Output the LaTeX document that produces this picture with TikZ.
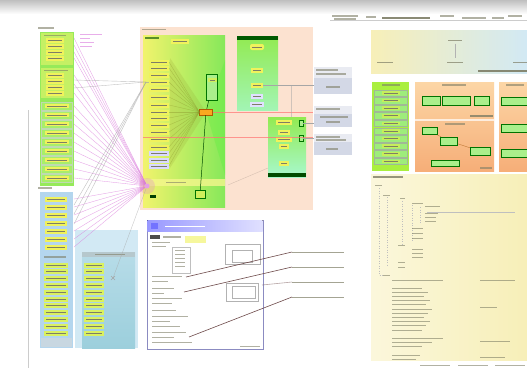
\documentclass[tikz,border=0pt]{standalone}
\usetikzlibrary{calc}
\definecolor{peach}{HTML}{FCE2D0}
\definecolor{lime}{HTML}{86E85A}
\definecolor{limeL}{HTML}{A8EE6A}
\definecolor{yel}{HTML}{F0F25C}
\definecolor{paleyel}{HTML}{F7EFB8}
\definecolor{bluecol}{HTML}{B4D6EE}
\definecolor{tealc}{HTML}{9CCFDC}
\definecolor{lblue}{HTML}{D2E9F4}
\definecolor{grayb}{HTML}{D3D8E6}
\definecolor{orng}{HTML}{F6AE78}
\definecolor{orngL}{HTML}{FCD6A6}
\definecolor{pinkl}{HTML}{DA78DC}
\definecolor{txtc}{HTML}{7E7E66}
\definecolor{olivec}{HTML}{8E9A2E}
\definecolor{callc}{HTML}{6E4A4A}
\tikzset{
  rb/.style={anchor=north west,inner sep=0pt,outer sep=0pt},
  txtbar/.style={line width=1.1pt,draw=txtc,opacity=.6},
  yitem/.style={fill=yel,inner sep=0pt,outer sep=0pt,minimum height=5pt,
     path picture={\draw[txtc,line width=.8pt] ([xshift=2pt]path picture bounding box.west) -- ([xshift=-2pt]path picture bounding box.east);}},
  lab/.style={inner sep=0pt,outer sep=0pt,minimum height=3pt,anchor=west,
     path picture={\draw[txtc,line width=1pt,opacity=.7] (path picture bounding box.west) -- (path picture bounding box.east);}},
  gcell/.style={fill=limeL,draw=lime!70!black!40,line width=.3pt,inner sep=0pt,minimum width=31pt,minimum height=8pt},
  gnode/.style={fill=lime!70!white,draw=green!45!black,line width=.4pt,inner sep=0pt},
  pinkline/.style={draw=pinkl,line width=.35pt,opacity=.7},
  grayline/.style={draw=gray!70,line width=.4pt},
  fanline/.style={draw=olivec,line width=.4pt,opacity=.45},
  redline/.style={draw=red!55,line width=.5pt,opacity=.7},
  callout/.style={draw=callc,line width=.6pt},
  darkline/.style={draw=green!30!black,line width=.5pt},
}
\newcommand\rbox[6]{\node[rb,#1,minimum width=#4pt,minimum height=#5pt] (#6) at (#2,#3) {};}
\newcommand\tbar[3]{\draw[txtbar] (#1,#2) -- ++(#3,0);}
\begin{document}
\begin{tikzpicture}[x=1pt,y=-1pt]
\useasboundingbox (0,0) rectangle (527,370);
\fill[white] (0,0) rectangle (527,370);
\fill[top color=black!25,bottom color=white] (0,0) rectangle (527,14);
\draw[black!20,line width=.8pt] (28,110) -- (28,368);

% ===== left upper column
\tbar{38}{28}{16}
\rbox{fill=lime!85!yel}{40}{32}{34}{154}{Lcol}
\rbox{fill=limeL!60!yel}{41}{33}{32}{32}{Lg1}
\tbar{44}{35.5}{22}
\foreach \y [count=\i] in {40.5,46.5,52.5,58.5} \node[yitem,minimum width=18pt] (Lg1i\i) at (55,\y) {};
\rbox{fill=limeL!60!yel}{41}{68}{32}{30}{Lg2}
\tbar{44}{70.5}{24}
\foreach \y [count=\i] in {75,81,87,93} \node[yitem,minimum width=18pt] (Lg2i\i) at (55,\y) {};
\foreach \i in {0,...,8} {
  \node[gcell] (Lc\i) at (57,106+9*\i) {};
  \node[yitem,minimum width=24pt,minimum height=4pt] (Lci\i) at (Lc\i) {};
}
\foreach \y/\w in {34/22,38/10,42/14,46/12} \draw[draw=pinkl,line width=.9pt,opacity=.6] (80,\y) -- ++(\w,0);

% ===== left lower column
\tbar{38}{188}{14}
\rbox{fill=bluecol}{40}{192}{33}{156}{Bcol}
\foreach \y [count=\i] in {199,207,215,223,231,239,247} \node[yitem,minimum width=22pt] (Bu\i) at (56,\y) {};
\tbar{44}{257}{22}
\foreach \i in {0,...,10} \node[yitem,fill=yel!70!limeL,minimum width=24pt] (Bl\i) at (56,265+6.8*\i) {};
\fill[bluecol!70!gray!60] (41,338) rectangle (72,347);

% ===== light blue box
\rbox{fill=lblue}{75}{230}{63}{118}{LB}
\rbox{top color=tealc!50!lblue,bottom color=tealc}{82}{252}{53}{96}{LBi}
\fill[tealc!70!black!50] (82,252) rectangle (135,257);
\tbar{95}{254.5}{30}
\foreach \i in {0,...,10} \node[yitem,fill=yel!70!limeL,minimum width=20pt] (Ri\i) at (94,265+6.8*\i) {};
\coordinate (Xm) at (113,278);
\draw[gray!70,line width=.5pt] ($(Xm)+(-2,-2)$) -- ($(Xm)+(2,2)$) ($(Xm)+(-2,2)$) -- ($(Xm)+(2,-2)$);

% ===== center peach area
\rbox{fill=peach}{140}{27}{173}{183}{Peach}
\tbar{142}{29.5}{24}
\rbox{left color=yel!90!white,right color=lime}{143}{35}{82}{172}{CG}
\fill[olivec,opacity=.18] (170,58) -- (206,112) -- (170,168) -- cycle;
\fill[lime!70!green,opacity=.35] (206,112) -- (225,60) -- (225,175) -- cycle;
\fill[yel!70,opacity=.8] (143,179) rectangle (225,186);
\tbar{166}{182.5}{20}
\draw[txtbar,draw=green!30!black] (145,38) -- ++(14,0);
\node[yitem,minimum width=18pt,minimum height=5pt] (Ctab) at (180,41) {};
\foreach \y [count=\i] in {62,68,75,82,89,97,105,112,118,125,132,139,147} \node[yitem,minimum width=20pt] (Ci\i) at (159,\y) {};
\foreach \y [count=\i] in {153,160,166} \node[yitem,fill=blue!15,minimum width=20pt] (Cb\i) at (159,\y) {};
\node[fill=orange!65!yel,draw=orange!70!black,line width=.3pt,minimum width=13pt,minimum height=6pt,inner sep=0] (hub) at (206,112) {};
\foreach \i in {1,...,13} \draw[fanline] (Ci\i.east) -- (hub.west);
\foreach \i in {1,...,3} \draw[fanline] (Cb\i.east) -- (hub.west);
\node[gnode,minimum width=11pt,minimum height=26pt] (Gn) at (212,87) {};
\node[yitem,fill=yel!70!lime,minimum width=9pt,minimum height=4pt] (Gni) at (212,80) {};
\draw[darkline] (hub) -- (Gn);
\node[gnode,fill=yel!70!lime,minimum width=10pt,minimum height=8pt] (Cbot) at (200,194) {};
\draw[darkline] (hub) -- (Cbot);
\node[fill=green!25!black,minimum width=6pt,minimum height=3pt,inner sep=0] (Cdk) at (153,196) {};
\fill[pinkl,opacity=.25] (147,186) circle (8);
\node[circle,fill=pinkl!70,inner sep=0,minimum size=5pt] (P) at (147,186) {};
\coordinate (Q) at (146,82);

% box 2
\rbox{top color=lime!90!yellow,bottom color=cyan!25!lime!60!white}{237}{36}{41}{74}{CG2}
\fill[green!35!black] (237,36) rectangle (278,40);
\node[yitem,rounded corners=2pt,minimum width=14pt,minimum height=6pt] (C2a) at (257,47) {};
\node[yitem,minimum width=12pt] (C2b) at (257,70) {};
\node[yitem,minimum width=12pt] (C2c) at (257,85) {};
\node[yitem,fill=blue!12,minimum width=12pt] (C2d) at (257,96) {};
\node[yitem,fill=blue!12,minimum width=14pt] (C2e) at (257,104) {};

% box 3
\rbox{top color=lime!90!yellow,bottom color=lime!60!cyan!50!white}{268}{117}{38}{60}{CG3}
\fill[green!30!black] (268,173) rectangle (306,177);
\node[yitem,minimum width=16pt] (C3a) at (284,122) {};
\node[yitem,minimum width=12pt] (C3b) at (284,132) {};
\node[yitem,minimum width=16pt] (C3c) at (284,139) {};
\node[yitem,minimum width=10pt] (C3d) at (284,146) {};
\node[yitem,minimum width=10pt] (C3e) at (284,163) {};
\node[gnode,minimum width=4pt,minimum height=6pt] (C3r1) at (301,123) {};
\node[gnode,minimum width=4pt,minimum height=6pt] (C3r2) at (301,138) {};

% gray boxes right
\rbox{fill=grayb!50!white}{314}{67}{38}{27}{G1}
\fill[grayb] (314,78) rectangle (352,94);
\tbar{316}{70}{22} \tbar{316}{74}{30} \tbar{326}{87}{14}
\rbox{fill=grayb!50!white}{314}{106}{38}{21}{G2}
\fill[grayb] (314,114) rectangle (352,127);
\tbar{316}{109}{24} \tbar{320}{117}{28} \tbar{326}{122}{14}
\rbox{fill=grayb!50!white}{314}{134}{38}{21}{G3}
\fill[grayb] (314,142) rectangle (352,155);
\tbar{316}{137}{24} \tbar{316}{140}{30} \tbar{326}{149}{12}

% connectors center
\coordinate (r2a) at (143,137);
\coordinate (r2b) at (313,137);
\draw[redline] (hub.east) -- (hub.east -| Peach.east);
\draw[redline] (r2a) -- (r2b);
\draw[grayline] (C2c.east) -- (C2c.east -| G1.west);
\draw[grayline] (C3r1.east) -- (C3r1.east -| G2.west);
\draw[grayline] (C3r2.east) -- (C3r2.east -| G3.west);
\coordinate (v1) at (291,85);
\coordinate (v2) at (291,117);
\draw[grayline,opacity=.5] (v1) -- (v2);
\coordinate (f1) at (268,168);
\coordinate (f2) at (228,185);
\draw[draw=peach!70!black,line width=.4pt,opacity=.5] (f1) -- (f2);

% purple and gray lines from left columns
\foreach \y in {38,45,52,58,75,84,93,106,115,124,133,142,151,160,169,178,199,207,215,223,231,239,247} {
  \coordinate (pe) at (74,\y);
  \draw[pinkline] (pe) -- (P);
}
\foreach \y in {80,88,205,214,224} {
  \coordinate (ge) at (74,\y);
  \draw[grayline,opacity=.7] (ge) -- (Q);
}
\draw[grayline,opacity=.7] (Q) -- (Ci4.west);
\draw[grayline,opacity=.6] (Xm) -- (P);

% ===== screenshot window
\rbox{fill=white,draw=blue!30!gray!70,line width=.6pt}{147}{220}{116}{129}{Win}
\fill[left color=blue!40!white,right color=blue!12!white] (147.3,220.3) rectangle (262.7,231);
\node[fill=blue!55!white,minimum width=7pt,minimum height=6pt,inner sep=0] (Wic) at (154,226) {};
\draw[white,line width=1pt] (165,226) -- ++(40,0);
\fill[black!70] (150,234.5) rectangle (160,239);
\tbar{163}{237}{18}
\fill[yel!60] (185,236) rectangle (206,243);
\rbox{draw=gray!50,fill=white,line width=.4pt}{172}{247}{18}{26}{Wl1}
\foreach \y in {250,254,258,262,266} \draw[txtbar,line width=.7pt] (175,\y) -- ++(10,0);
\rbox{draw=gray!60,fill=white,line width=.4pt}{225}{244}{35}{20}{Wp1}
\draw[gray!60,line width=.4pt] (232,250) rectangle (252,262);
\rbox{draw=gray!60,fill=white,line width=.4pt}{226}{283}{32}{18}{Wp2}
\draw[gray!60,line width=.4pt] (232,286) rectangle (255,298);
\foreach \y/\x/\w in {242/152/18,246/152/14,276/152/30,281/152/16,288/152/22,293/152/12,298/152/30,303/152/20,310/152/24,316/152/36,321/152/18,326/152/28,332/152/34,337/152/22,342/152/40} \draw[txtbar,line width=.7pt] (\x,\y) -- ++(\w,0);
\draw[txtbar,line width=.7pt] (240,346) -- ++(20,0);

% callouts
\foreach \y [count=\i] in {252,267,282,297} \node[lab,minimum width=52pt] (L\i) at (292,\y) {};
\coordinate (w1) at (186,277);
\coordinate (w2) at (184,292);
\coordinate (w3) at (262,285);
\coordinate (w4) at (189,337);
\draw[callout] (w1) -- (L1.west);
\draw[callout] (w2) -- (L2.west);
\draw[callout,opacity=.5] (w3) -- (L3.west);
\draw[callout] (w4) -- (L4.west);

% ===== right top header strip
\tbar{332}{16}{26} \tbar{334}{19}{22}
\tbar{366}{17}{10}
\draw[txtbar,opacity=.9] (382,18) -- ++(48,0);
\tbar{440}{16}{14} \tbar{462}{18}{24} \tbar{492}{18}{12} \tbar{508}{16}{14}
\draw[gray!40,line width=.4pt] (330,20.5) -- (527,20.5);

% tree box
\rbox{left color=paleyel,right color=lblue}{371}{30}{156}{43}{RB}
\node[lab,minimum width=14pt,anchor=center] (T0) at (455,40) {};
\node[lab,minimum width=16pt,anchor=center] (T1) at (385,62) {};
\node[lab,minimum width=16pt,anchor=center] (T2) at (455,62) {};
\node[lab,minimum width=14pt,anchor=center] (T3) at (520,62) {};
\draw[gray!60,line width=.5pt] ($(T0.south)+(0,2)$) -- ($(T2.north)+(0,-3)$);
\draw[txtbar,opacity=.9,line width=1.3pt] (478,71) -- ++(49,0);

% green column
\rbox{fill=lime!70!yellow}{372}{82}{37}{89}{GC}
\tbar{382}{85}{18}
\foreach \i in {0,...,9} {
  \node[gnode,fill=lime!80!white,draw=lime!50!black!50,minimum width=33pt,minimum height=6.5pt] (GCi\i) at (390.5,93+7.6*\i) {};
  \node[yitem,fill=yel!60!lime,minimum width=18pt,minimum height=3.5pt] (GCy\i) at (390.5,93+7.6*\i) {};
}

% orange boxes
\rbox{top color=orngL,bottom color=orng}{415}{82}{79}{89}{OB}
\tbar{442}{85}{24}
\node[gnode,minimum width=18pt,minimum height=9pt] (O1) at (431,101) {};
\node[gnode,minimum width=28pt,minimum height=9pt] (O2) at (456,101) {};
\node[gnode,minimum width=15pt,minimum height=9pt] (O3) at (482,101) {};
\draw[txtbar,opacity=.8] (470,116) -- ++(23,0);
\fill[white,opacity=.7] (415,119) rectangle (494,120.5);
\tbar{445}{124}{20}
\node[gnode,minimum width=15pt,minimum height=7pt] (O4) at (430,131) {};
\node[gnode,minimum width=17pt,minimum height=8pt] (O5) at (449,141) {};
\node[gnode,minimum width=20pt,minimum height=8pt] (O6) at (480,151) {};
\node[gnode,minimum width=28pt,minimum height=6pt] (O7) at (445,163) {};
\draw[orange!60!black,line width=.4pt,opacity=.6] (O4) -- (O5);
\draw[orange!60!black,line width=.4pt,opacity=.6] (O5) -- (O6);
\draw[txtbar] (480,168) -- ++(12,0);
\rbox{top color=orngL,bottom color=orng}{499}{82}{28}{89}{OB2}
\tbar{506}{85}{18}
\node[gnode,minimum width=26pt,minimum height=8pt] (O8) at (514,101) {};
\node[gnode,minimum width=26pt,minimum height=8pt] (O9) at (514,128) {};
\node[gnode,minimum width=26pt,minimum height=8pt] (O10) at (514,153) {};

% yellow panel
\rbox{left color=paleyel!50!white,right color=paleyel}{371}{174}{156}{186}{YP}
\draw[txtbar,opacity=.8] (373,177) -- ++(30,0);
\draw[gray!50,dotted,line width=.5pt] (379,188) -- (379,275) -- (383,275);
\draw[gray!50,dotted,line width=.5pt] (387,197) -- (387,265);
\draw[gray!50,dotted,line width=.5pt] (402,201) -- (402,245);
\draw[gray!50,dotted,line width=.5pt] (412,205) -- (412,242);
\draw[gray!50,dotted,line width=.5pt] (420,207) -- (420,223);
\foreach \x/\y/\w in {375/185/7,383/195/7,400/198/5,412/203/11,425/206/15,425/213/13,425/217/11,425/221/11,412/228/11,412/233/11,412/238/11,398/245/7,412/249/11,412/253/11,412/257/11,398/262/7,398/267/7,383/275/7,392/280/51,480/280/35,480/307/17,392/338/51,392/342/40,392/346/30,480/341/30,392/355/28,392/359/24,480/357/25} \draw[txtbar,line width=1pt] (\x,\y) -- ++(\w,0);
\draw[gray!50,line width=.4pt] (427,212) -- (515,212);
\foreach \i/\w in {0/30,1/36,2/32,3/38,4/34,5/40,6/36,7/32,8/38,9/34,10/30} \draw[txtbar,line width=1pt] (392,288+4.2*\i) -- ++(\w,0);
\draw[txtbar,line width=.8pt] (420,365) -- ++(30,0);
\draw[txtbar,line width=.8pt] (458,365) -- ++(30,0);
\draw[txtbar,line width=.8pt] (495,365) -- ++(30,0);
\end{tikzpicture}
\end{document}
